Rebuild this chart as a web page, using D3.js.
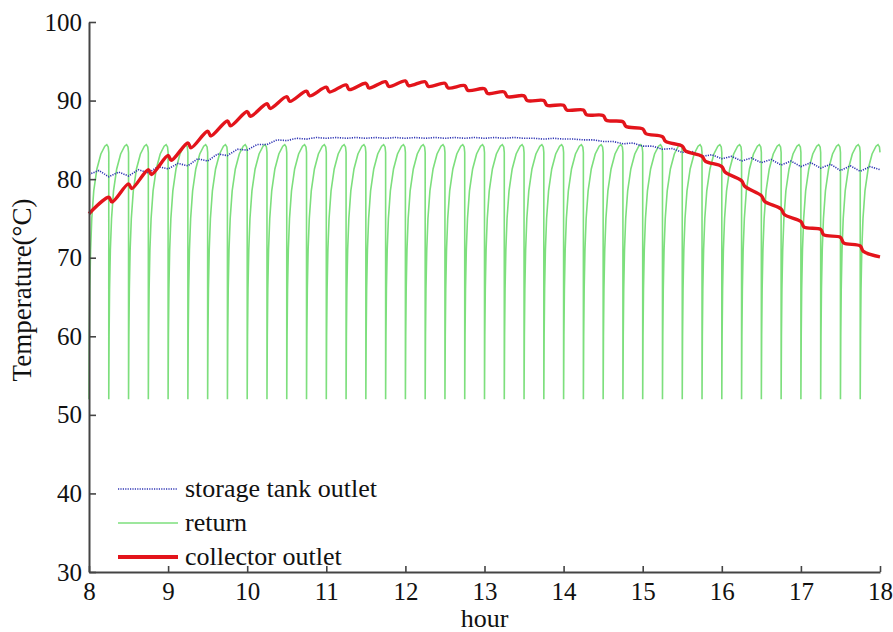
<!DOCTYPE html>
<html>
<head>
<meta charset="utf-8">
<script src="https://cdn.jsdelivr.net/npm/d3@7"></script>
<style>
  body { margin: 0; background: #fff; }
  svg text { font-family: "Liberation Serif", "DejaVu Serif", "Times New Roman", Times, serif; fill: #111; }
</style>
</head>
<body>
<div id="chart"></div>
<script>
// hours of the x axis and temperature ticks
const hourTicks = [8, 9, 10, 11, 12, 13, 14, 15, 16, 17, 18];
const tempTicks = [30, 40, 50, 60, 70, 80, 90, 100];

// storage tank outlet [hour, temp]
const tankPoints = [
  [8.000,80.6],[8.125,81.1],[8.250,80.3],[8.375,80.9],[8.500,80.4],[8.625,81.2],[8.750,80.8],[8.875,81.6],
  [9.000,81.3],[9.125,82.0],[9.250,81.7],[9.375,82.6],[9.500,82.3],[9.625,83.2],[9.750,83.0],[9.875,83.8],
  [10.000,83.7],[10.125,84.4],[10.250,84.4],[10.375,85.0],[10.500,84.9],[10.625,85.2],[10.750,85.1],[10.875,85.3],
  [11.000,85.2],[11.125,85.3],[11.250,85.2],[11.375,85.3],[11.500,85.2],[11.625,85.3],[11.750,85.2],[11.875,85.3],
  [12.000,85.2],[12.125,85.3],[12.250,85.2],[12.375,85.3],[12.500,85.2],[12.625,85.3],[12.750,85.2],[12.875,85.3],
  [13.000,85.2],[13.125,85.3],[13.250,85.2],[13.375,85.3],[13.500,85.2],[13.625,85.2],[13.750,85.1],[13.875,85.2],
  [14.000,85.1],[14.125,85.1],[14.250,85.0],[14.375,85.0],[14.500,84.8],[14.625,84.8],[14.750,84.5],[14.875,84.6],
  [15.000,84.2],[15.125,84.2],[15.250,83.8],[15.375,83.9],[15.500,83.4],[15.625,83.5],[15.750,82.9],[15.875,83.1],
  [16.000,82.6],[16.125,82.9],[16.250,82.3],[16.375,82.7],[16.500,82.1],[16.625,82.5],[16.750,81.8],[16.875,82.3],
  [17.000,81.6],[17.125,82.1],[17.250,81.4],[17.375,81.9],[17.500,81.1],[17.625,81.7],[17.750,81.0],[17.875,81.6],
  [18.000,81.2]
];

// return: the pump cycle starts (quarter hours) and the shape of one cycle
const returnCycleStarts = [
  8.00, 8.25, 8.50, 8.75, 9.00, 9.25, 9.50, 9.75, 10.00, 10.25,
  10.50, 10.75, 11.00, 11.25, 11.50, 11.75, 12.00, 12.25, 12.50, 12.75,
  13.00, 13.25, 13.50, 13.75, 14.00, 14.25, 14.50, 14.75, 15.00, 15.25,
  15.50, 15.75, 16.00, 16.25, 16.50, 16.75, 17.00, 17.25, 17.50, 17.75
];
const returnCycleOffsets = [0, 0.004, 0.010, 0.020, 0.035, 0.060, 0.100, 0.150, 0.200, 0.225, 0.243, 0.250];
const returnCycleTemps   = [52.0, 60.0, 66.0, 71.0, 75.0, 78.5, 81.3, 83.2, 84.2, 84.4, 84.1, 83.4];

// collector outlet [hour, temp]
const collectorPoints = [
  [8.00,75.6],
  [8.25,77.7],[8.29,77.1],[8.50,79.4],[8.54,78.8],[8.75,81.2],[8.79,80.6],
  [9.00,83.0],[9.04,82.4],[9.25,84.6],[9.29,84.0],[9.50,86.1],[9.54,85.5],[9.75,87.4],[9.79,86.8],
  [10.00,88.6],[10.04,88.0],[10.25,89.6],[10.29,89.0],[10.50,90.5],[10.54,89.9],[10.75,91.2],[10.79,90.6],
  [11.00,91.7],[11.04,91.1],[11.25,92.0],[11.29,91.4],[11.50,92.2],[11.54,91.6],[11.75,92.4],[11.79,91.8],
  [12.00,92.5],[12.04,91.9],[12.25,92.4],[12.29,91.8],[12.50,92.2],[12.54,91.6],[12.75,91.9],[12.79,91.3],
  [13.00,91.5],[13.04,90.9],[13.25,91.1],[13.29,90.5],[13.50,90.6],[13.54,90.0],[13.75,90.0],[13.79,89.4],
  [14.00,89.4],[14.04,88.8],[14.25,88.8],[14.29,88.2],[14.50,88.1],[14.54,87.5],[14.75,87.3],[14.79,86.7],
  [15.00,86.4],[15.04,85.8],[15.25,85.4],[15.29,84.8],[15.50,84.2],[15.54,83.6],[15.75,82.9],[15.79,82.3],
  [16.00,81.6],[16.04,80.9],[16.25,79.8],[16.29,79.1],[16.50,77.9],[16.54,77.2],[16.75,76.2],[16.79,75.5],
  [17.00,74.6],[17.04,73.9],[17.25,73.6],[17.29,72.9],[17.50,72.6],[17.54,71.9],[17.75,71.5],[17.79,70.8],
  [18.00,70.1]
];

const legendItems = ["storage tank outlet", "return", "collector outlet"];

// Chart dimensions
let margin = { top: 22, right: 13, bottom: 60, left: 89 };
let width = 893 - margin.left - margin.right;
let height = 632 - margin.top - margin.bottom;

let svg = d3.select("#chart")
  .append("svg")
  .attr("width", width + margin.left + margin.right)
  .attr("height", height + margin.top + margin.bottom)
  .append("g")
  .attr("transform", `translate(${margin.left},${margin.top})`);

// Scales
let x = d3.scaleLinear().domain([8, 18]).range([0, width]);
let y = d3.scaleLinear().domain([30, 100]).range([height, 0]);

// build the return series from its cycles
let returnPoints = [];
returnCycleStarts.forEach(function(start) {
  returnCycleOffsets.forEach(function(off, i) {
    returnPoints.push([start + off, returnCycleTemps[i]]);
  });
});

let line = d3.line()
  .x(d => x(d[0]))
  .y(d => y(d[1]));

let smooth = d3.line()
  .x(d => x(d[0]))
  .y(d => y(d[1]))
  .curve(d3.curveCatmullRom.alpha(0.5));

const styles = [
  { color: "#3036b4", width: 1.6, dash: "1.2,1.2" },
  { color: "#7ddf7d", width: 1.6, dash: null },
  { color: "#e3141b", width: 3.4, dash: null }
];

// return (green)
svg.append("path")
  .datum(returnPoints)
  .attr("fill", "none")
  .attr("stroke", styles[1].color)
  .attr("stroke-width", styles[1].width)
  .attr("d", line);

// storage tank outlet (blue dotted)
svg.append("path")
  .datum(tankPoints)
  .attr("fill", "none")
  .attr("stroke", styles[0].color)
  .attr("stroke-width", styles[0].width)
  .attr("stroke-dasharray", styles[0].dash)
  .attr("d", line);

// collector outlet (red)
svg.append("path")
  .datum(collectorPoints)
  .attr("fill", "none")
  .attr("stroke", styles[2].color)
  .attr("stroke-width", styles[2].width)
  .attr("stroke-linejoin", "round")
  .attr("d", smooth);

// Axes, ticks pointing inward
let yAxis = svg.append("g")
  .call(d3.axisLeft(y).tickValues(tempTicks).tickSizeInner(-7).tickSizeOuter(0).tickPadding(7));
let xAxis = svg.append("g")
  .attr("transform", `translate(0,${height})`)
  .call(d3.axisBottom(x).tickValues(hourTicks).tickSizeInner(-6).tickSizeOuter(0).tickPadding(10));

[xAxis, yAxis].forEach(function(a) {
  a.attr("font-family", null);
  a.select(".domain").attr("stroke", "#444").attr("stroke-width", 2);
  a.selectAll(".tick line").attr("stroke", "#444").attr("stroke-width", 1.6);
  a.selectAll(".tick text")
    .attr("font-size", "25px")
    .attr("fill", "#111");
});

// Axis labels
svg.append("text")
  .attr("x", width / 2)
  .attr("y", height + 55)
  .attr("text-anchor", "middle")
  .attr("font-size", "26px")
  .text("hour");

svg.append("text")
  .attr("transform", `translate(${31 - margin.left},${290 - margin.top}) rotate(-90)`)
  .attr("text-anchor", "middle")
  .attr("font-size", "27px")
  .text("Temperature(°C)");

// Legend
let legend = svg.append("g").attr("transform", "translate(29,467)");
legendItems.forEach(function(name, i) {
  let g = legend.append("g").attr("transform", `translate(0,${i * 34})`);
  g.append("line")
    .attr("x1", 0).attr("x2", 60)
    .attr("stroke", styles[i].color)
    .attr("stroke-width", i === 2 ? 4 : styles[i].width)
    .attr("stroke-dasharray", styles[i].dash);
  g.append("text")
    .attr("x", 67)
    .attr("dy", "0.32em")
    .attr("font-size", "26px")
    .text(name);
});
</script>
</body>
</html>
